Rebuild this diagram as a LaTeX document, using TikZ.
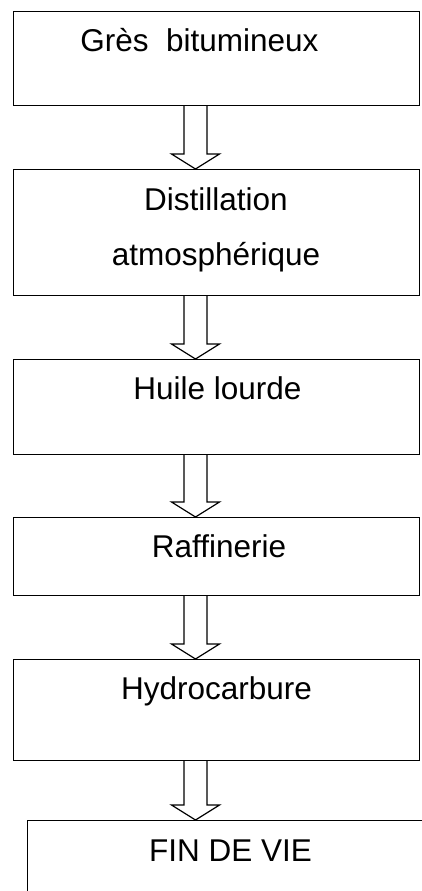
\documentclass[tikz,border=0pt]{standalone}
\usepackage{fontspec}
\setmainfont{Liberation Sans}
\usetikzlibrary{calc}

\tikzset{
  stepbox/.style={draw=black, line width=1.2pt, fill=none, inner sep=0pt,
                  minimum width=406pt, anchor=north west},
  steptext/.style={inner sep=0pt, anchor=base,
                   font=\fontsize{31.5}{37}\selectfont},
  blockarrow/.style={draw=black, line width=1.2pt, line join=miter, fill=white}
}

% hollow down arrow from the bottom edge of #1 to the top edge of #2
% (y grows downwards in this picture)
\newcommand\flowarrow[2]{%
  \draw[blockarrow]
    ($(axis |- #1.south)+(-11.5,0)$) -- ($(axis |- #2.north)+(-11.5,-15)$)
    -- ++(-12.5,0) -- (axis |- #2.north) -- ($(axis |- #2.north)+(24,-15)$)
    -- ++(-12.5,0) -- ($(axis |- #1.south)+(11.5,0)$);
}

\begin{document}
\begin{tikzpicture}[x=1pt, y=-1pt]
  \useasboundingbox (0,0) rectangle (422,891);
  \clip (0,0) rectangle (422,891);
  \fill[white] (0,0) rectangle (422,891);

  \coordinate (axis) at (195.5,0);

  % process steps
  \node[stepbox, minimum height=94pt]  (gres)  at (13,11)  {};
  \node[stepbox, minimum height=126pt] (dist)  at (13,169) {};
  \node[stepbox, minimum height=95pt]  (huile) at (13,359) {};
  \node[stepbox, minimum height=78pt]  (raff)  at (13,517) {};
  \node[stepbox, minimum height=101pt] (hydro) at (13,659) {};
  \node[stepbox, minimum width=406pt, minimum height=110pt] (fin) at (27,820) {};

  % labels
  \node[steptext] (tgres)  at (199.5,52)  {Grès\ \ bitumineux};
  \node[steptext] (tdist1) at (216,210)   {Distillation};
  \node[steptext] (tdist2) at (216,265)   {atmosphérique};
  \node[steptext] (thuile) at (217.5,399) {Huile lourde};
  \node[steptext] (traff)  at (219,557)   {Raffinerie};
  \node[steptext] (thydro) at (216.5,699) {Hydrocarbure};
  \node[steptext] (tfin)   at (230.5,861) {FIN DE VIE};

  % connecting arrows
  \flowarrow{gres}{dist}
  \flowarrow{dist}{huile}
  \flowarrow{huile}{raff}
  \flowarrow{raff}{hydro}
  \flowarrow{hydro}{fin}
\end{tikzpicture}
\end{document}
